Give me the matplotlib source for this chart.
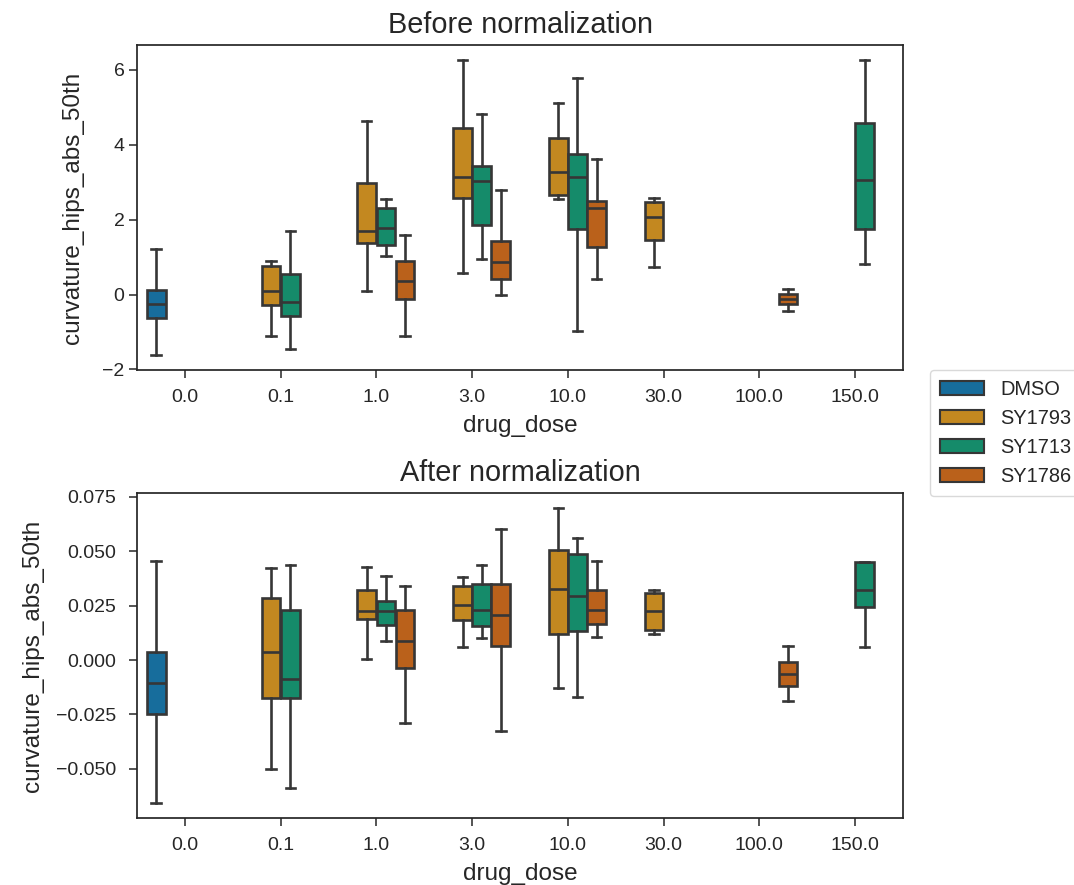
import matplotlib
matplotlib.use("Agg")
import matplotlib.pyplot as plt
from matplotlib.patches import Patch
from matplotlib.ticker import MultipleLocator, FuncFormatter
import seaborn as sns

# Categories
doses = ["0.0", "0.1", "1.0", "3.0", "10.0", "30.0", "100.0", "150.0"]
drugs = ["DMSO", "SY1793", "SY1713", "SY1786"]

# Box summaries per drug: dose -> (whisker low, q1, median, q3, whisker high)
before_dmso = {"0.0": (-1.62, -0.63, -0.25, 0.11, 1.22)}
before_sy1793 = {
    "0.1": (-1.11, -0.29, 0.10, 0.75, 0.90),
    "1.0": (0.09, 1.38, 1.71, 2.98, 4.63),
    "3.0": (0.57, 2.57, 3.14, 4.44, 6.27),
    "10.0": (2.54, 2.65, 3.27, 4.17, 5.11),
    "30.0": (0.73, 1.45, 2.07, 2.47, 2.59),
}
before_sy1713 = {
    "0.1": (-1.46, -0.58, -0.19, 0.54, 1.71),
    "1.0": (1.02, 1.33, 1.78, 2.31, 2.54),
    "3.0": (0.95, 1.86, 3.03, 3.44, 4.82),
    "10.0": (-0.96, 1.76, 3.14, 3.75, 5.79),
    "150.0": (0.81, 1.76, 3.07, 4.59, 6.27),
}
before_sy1786 = {
    "1.0": (-1.11, -0.12, 0.375, 0.90, 1.58),
    "3.0": (-0.02, 0.41, 0.86, 1.43, 2.78),
    "10.0": (0.42, 1.27, 2.32, 2.51, 3.63),
    "100.0": (-0.44, -0.25, -0.12, 0.02, 0.14),
}

after_dmso = {"0.0": (-0.0658, -0.0249, -0.0107, 0.0038, 0.0456)}
after_sy1793 = {
    "0.1": (-0.0500, -0.0173, 0.0038, 0.0287, 0.0423),
    "1.0": (0.0003, 0.0189, 0.0226, 0.0321, 0.0430),
    "3.0": (0.0058, 0.0186, 0.0253, 0.0341, 0.0382),
    "10.0": (-0.0129, 0.0121, 0.0325, 0.0508, 0.0700),
    "30.0": (0.0121, 0.0140, 0.0226, 0.0308, 0.0321),
}
after_sy1713 = {
    "0.1": (-0.0589, -0.0175, -0.0087, 0.0230, 0.0436),
    "1.0": (0.0086, 0.0163, 0.0224, 0.0272, 0.0388),
    "3.0": (0.0101, 0.0156, 0.0229, 0.0351, 0.0436),
    "10.0": (-0.0170, 0.0133, 0.0295, 0.0489, 0.0561),
    "150.0": (0.0058, 0.0244, 0.0321, 0.0453, 0.0453),
}
after_sy1786 = {
    "1.0": (-0.0287, -0.0035, 0.0086, 0.0229, 0.0341),
    "3.0": (-0.0328, 0.0063, 0.0206, 0.0348, 0.0601),
    "10.0": (0.0106, 0.0167, 0.0229, 0.0321, 0.0457),
    "100.0": (-0.0189, -0.0117, -0.0063, -0.0009, 0.0064),
}

before = [before_dmso, before_sy1793, before_sy1713, before_sy1786]
after = [after_dmso, after_sy1793, after_sy1713, after_sy1786]

plt.rcParams["font.family"] = ["Liberation Sans", "DejaVu Sans"]
plt.rcParams["text.color"] = "#262626"
plt.rcParams["axes.labelcolor"] = "#262626"
plt.rcParams["xtick.color"] = "#262626"
plt.rcParams["ytick.color"] = "#262626"

palette = [sns.desaturate(c, 0.75) for c in sns.color_palette("colorblind", 4)]
line_gray = (0.21, 0.21, 0.21)
lw = 1.9

n_hue = len(drugs)
slot = 0.8 / n_hue
box_w = slot * 0.98


def draw_panel(ax, series, title):
    for h, (drug_data, color) in enumerate(zip(series, palette)):
        offset = -0.4 + slot * (h + 0.5)
        stats, pos = [], []
        for i, dose in enumerate(doses):
            if dose not in drug_data:
                continue
            lo, q1, med, q3, hi = drug_data[dose]
            stats.append(dict(whislo=lo, q1=q1, med=med, q3=q3, whishi=hi,
                              fliers=[], label=dose))
            pos.append(i + offset)
        ax.bxp(stats, positions=pos, widths=box_w, patch_artist=True,
               showfliers=False, manage_ticks=False,
               boxprops=dict(facecolor=color, edgecolor=line_gray, linewidth=lw),
               medianprops=dict(color=line_gray, linewidth=lw),
               whiskerprops=dict(color=line_gray, linewidth=lw),
               capprops=dict(color=line_gray, linewidth=lw),
               capwidths=box_w * 0.5)
    ax.set_xticks(range(len(doses)))
    ax.set_xticklabels(doses)
    ax.set_xlim(-0.5, len(doses) - 0.5)
    ax.margins(y=0.05)
    ax.set_xlabel("drug_dose", fontsize=17.5, labelpad=6.5)
    ax.set_ylabel("curvature_hips_abs_50th", fontsize=17.5)
    ax.set_title(title, fontsize=20.8, pad=8.5)
    ax.tick_params(labelsize=14, length=6, width=1.1, direction="out")
    ax.tick_params(axis="x", pad=7.5)
    for s in ax.spines.values():
        s.set_color("#262626")
        s.set_linewidth(1.25)


fig = plt.figure(figsize=(10.74, 8.85), dpi=100)
W, H = 1074, 885
ax1 = fig.add_axes([137 / W, 1 - 370 / H, 766 / W, 325 / H])
ax2 = fig.add_axes([137 / W, 1 - 818 / H, 766 / W, 325 / H])

draw_panel(ax1, before, "Before normalization")
draw_panel(ax2, after, "After normalization")

ax1.set_yticks([-2, 0, 2, 4, 6])
ax1.tick_params(axis="y", pad=3.0)
ax1.yaxis.set_label_coords((84 - 137) / 766, 0.5)

ax2.yaxis.set_major_locator(MultipleLocator(0.025))
ax2.yaxis.set_major_formatter(FuncFormatter(lambda v, _: f"{v:.3f}".replace("-", "\u2212")))
ax2.tick_params(axis="y", pad=9.0)
ax2.yaxis.set_label_coords((44 - 137) / 766, 0.5)

handles = [Patch(facecolor=c, edgecolor=line_gray, linewidth=lw * 0.8, label=d)
           for c, d in zip(palette, drugs)]
fig.legend(handles=handles, loc="upper left", bbox_to_anchor=(930 / W, 1 - 370 / H),
           borderaxespad=0, fontsize=14.4, frameon=True, edgecolor="#d0d0d0",
           handlelength=2.2, borderpad=0.5)

fig.savefig("out.png", dpi=100)
